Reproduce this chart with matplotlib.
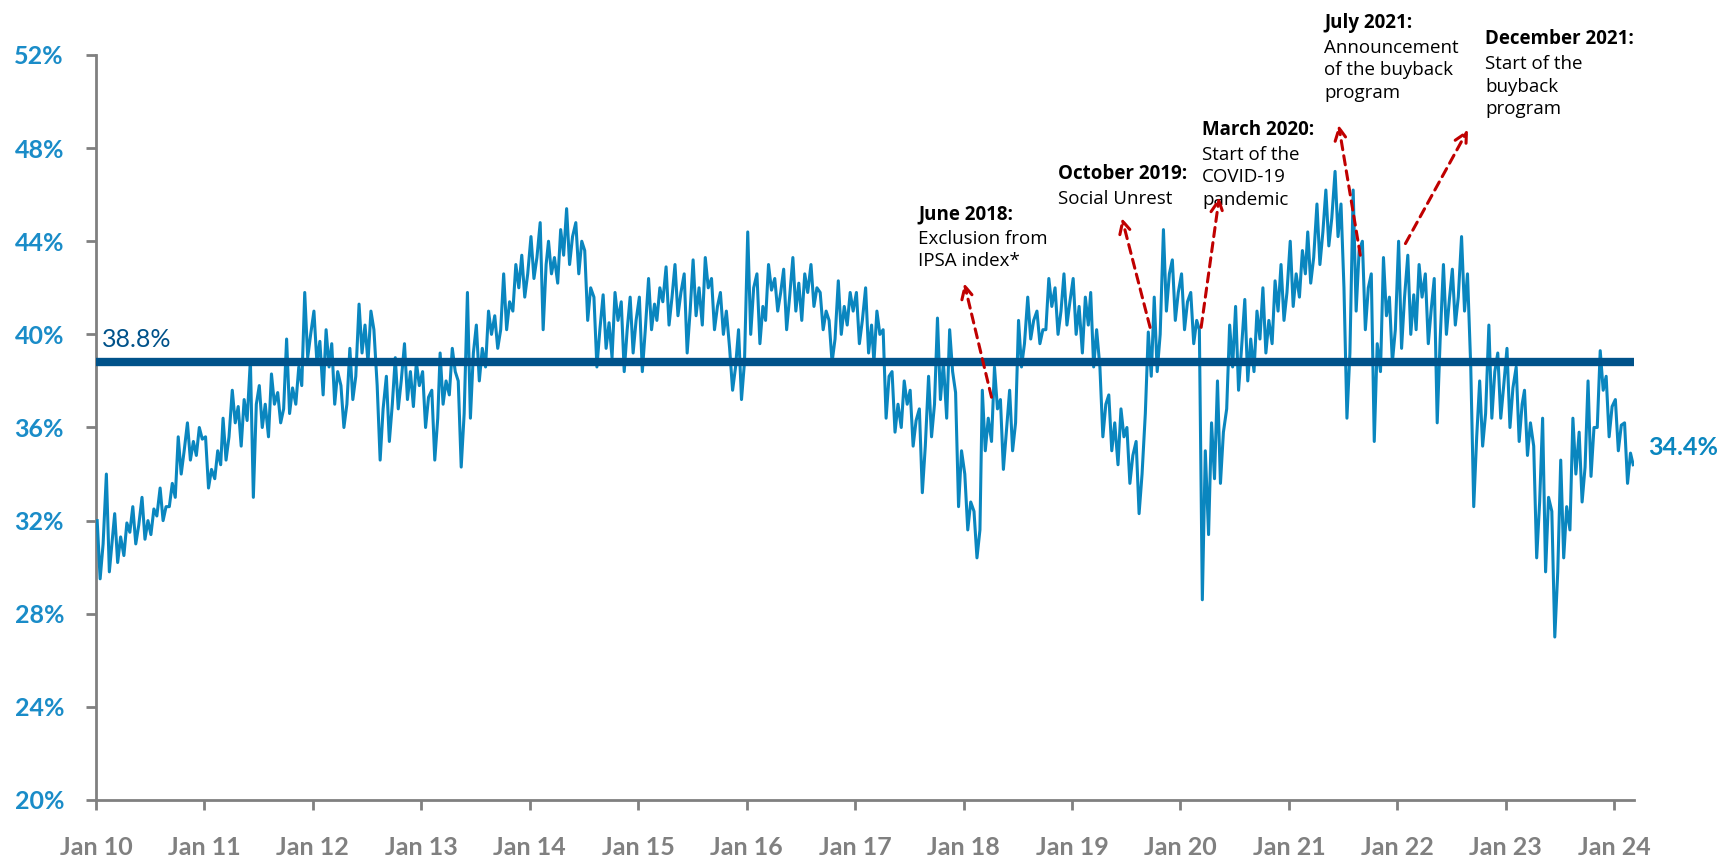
import numpy as np
import pandas as pd
import matplotlib
matplotlib.use("Agg")
import matplotlib.pyplot as plt
import matplotlib.dates as mdates

# free float (%): two extreme readings per month ...
y2010 = [32.0, 29.5, 34.0, 29.8, 32.3, 30.2, 30.5, 31.9, 32.6, 31.0, 33.0, 31.2,
         31.4, 32.5, 33.4, 32.0, 32.6, 33.6, 35.6, 34.0, 36.2, 34.6, 34.8, 36.0]
y2011 = [35.6, 33.4, 33.8, 35.0, 36.4, 34.6, 37.6, 36.2, 35.2, 37.2, 38.9, 33.0,
         37.8, 36.0, 35.6, 38.3, 37.5, 36.2, 39.8, 36.6, 37.0, 38.6, 41.8, 39.0]
y2012 = [41.0, 38.8, 37.4, 40.2, 39.6, 37.0, 37.8, 36.0, 39.4, 37.2, 41.3, 39.2,
         38.8, 41.0, 37.8, 34.6, 38.2, 35.4, 39.0, 36.8, 39.6, 37.2, 36.9, 38.8]
y2013 = [38.4, 36.0, 37.6, 34.6, 39.2, 37.0, 37.4, 39.4, 38.0, 34.3, 41.8, 36.4,
         40.4, 38.0, 38.6, 41.0, 40.8, 39.4, 42.6, 40.2, 41.0, 43.0, 43.4, 41.6]
y2014 = [44.2, 42.4, 44.8, 40.2, 44.0, 42.6, 42.2, 44.5, 45.4, 43.0, 44.8, 42.6,
         43.6, 40.6, 41.6, 38.6, 41.7, 39.4, 39.0, 41.8, 41.4, 38.4, 41.6, 39.2]
y2015 = [41.6, 38.4, 42.4, 40.2, 40.6, 42.0, 42.9, 40.4, 43.0, 40.8, 42.6, 39.2,
         43.2, 40.8, 40.4, 43.3, 42.4, 40.2, 41.8, 40.0, 39.4, 37.6, 40.2, 37.2]
y2016 = [44.4, 40.0, 42.6, 39.6, 40.6, 43.0, 42.4, 41.0, 42.8, 40.2, 43.3, 41.0,
         40.6, 42.6, 43.0, 41.2, 41.8, 40.2, 40.6, 38.8, 42.3, 40.0, 40.4, 41.8]
y2017 = [41.8, 39.6, 42.0, 39.2, 38.8, 41.0, 40.2, 36.4, 38.4, 35.8, 36.0, 38.0,
         37.6, 35.2, 36.8, 33.2, 38.2, 35.6, 40.7, 37.2, 36.4, 40.2, 37.5, 32.6]
y2018 = [34.0, 31.6, 32.4, 30.4, 37.6, 35.0, 35.4, 38.6, 37.2, 34.2, 37.6, 35.0,
         40.6, 38.6, 41.6, 39.8, 41.0, 39.6, 40.2, 42.4, 42.0, 40.0, 42.6, 40.4]
y2019 = [42.4, 40.0, 39.2, 41.6, 41.8, 38.6, 38.6, 35.6, 37.4, 35.0, 34.4, 36.8,
         36.0, 33.6, 35.4, 32.3, 36.6, 40.1, 41.6, 38.4, 44.5, 41.0, 43.2, 40.6]
y2020 = [42.6, 40.2, 41.8, 39.6, 40.2, 28.6, 31.4, 36.2, 38.0, 33.6, 36.8, 40.4,
         41.2, 37.6, 41.5, 38.0, 38.4, 41.0, 42.0, 39.2, 39.6, 42.3, 43.0, 40.6]
y2021 = [44.0, 41.2, 41.6, 43.6, 44.4, 42.2, 45.6, 43.0, 46.2, 43.8, 47.0, 44.2,
         42.0, 36.4, 46.2, 41.0, 44.0, 40.2, 42.6, 35.4, 38.4, 43.3, 41.6, 38.8]
y2022 = [44.0, 39.4, 43.4, 40.0, 40.2, 43.0, 42.6, 39.6, 42.4, 36.2, 43.0, 40.0,
         42.8, 40.4, 44.2, 41.0, 38.6, 32.6, 38.0, 35.2, 40.4, 36.4, 39.2, 36.4]
y2023 = [39.4, 36.0, 38.6, 35.4, 37.6, 34.8, 35.2, 30.4, 36.4, 29.8, 32.4, 27.0,
         34.6, 30.4, 31.6, 36.4, 35.8, 32.8, 38.0, 33.9, 36.0, 39.3, 38.2, 35.6]
y2024 = [37.2, 35.0, 36.2, 33.6, 34.4]

# ... and a typical (middle) reading per month
m2010 = [31.0, 31.2, 31.3, 31.5, 31.8, 32.0, 32.2, 32.6, 33.0, 35.0, 35.4, 35.5]
m2011 = [34.2, 34.4, 35.6, 36.9, 36.3, 37.0, 37.0, 37.0, 36.8, 37.7, 37.8, 40.0]
m2012 = [39.7, 38.6, 38.4, 37.0, 38.2, 40.4, 40.2, 36.8, 37.0, 38.0, 38.4, 37.8]
m2013 = [37.3, 36.4, 38.0, 38.4, 36.6, 39.2, 39.4, 40.0, 40.2, 41.4, 42.0, 42.6]
m2014 = [43.3, 43.0, 43.3, 43.4, 44.2, 44.0, 42.0, 40.2, 40.5, 40.6, 40.2, 40.6]
m2015 = [40.2, 41.3, 41.4, 41.6, 41.8, 41.0, 42.0, 42.0, 41.2, 41.0, 38.6, 38.8]
m2016 = [42.0, 41.2, 41.9, 41.8, 41.6, 42.2, 41.8, 42.0, 41.0, 39.8, 41.2, 41.0]
m2017 = [40.6, 40.4, 40.0, 38.2, 37.0, 37.0, 36.3, 35.2, 37.0, 38.8, 38.4, 35.0]
m2018 = [32.8, 31.6, 36.4, 36.8, 35.8, 36.2, 39.6, 40.6, 40.2, 41.2, 41.0, 41.4]
m2019 = [41.2, 40.4, 40.2, 37.0, 36.2, 35.6, 34.8, 34.0, 38.2, 40.0, 42.6, 41.8]
m2020 = [41.4, 40.6, 35.0, 33.8, 35.8, 38.6, 39.4, 39.8, 39.8, 40.6, 41.0, 41.8]
m2021 = [42.6, 42.6, 43.3, 44.4, 45.0, 45.6, 39.2, 43.6, 42.0, 39.6, 40.8, 40.2]
m2022 = [41.6, 41.7, 41.6, 41.1, 39.8, 41.5, 41.6, 42.6, 35.6, 36.6, 38.4, 37.8]
m2023 = [37.7, 37.0, 36.2, 32.8, 33.0, 29.8, 32.6, 34.0, 34.3, 36.0, 37.6, 36.9]
m2024 = [36.1, 34.9]

years = {2010: (y2010, m2010), 2011: (y2011, m2011), 2012: (y2012, m2012),
         2013: (y2013, m2013), 2014: (y2014, m2014), 2015: (y2015, m2015),
         2016: (y2016, m2016), 2017: (y2017, m2017), 2018: (y2018, m2018),
         2019: (y2019, m2019), 2020: (y2020, m2020), 2021: (y2021, m2021),
         2022: (y2022, m2022), 2023: (y2023, m2023), 2024: (y2024, m2024)}

dates = []
values = []
for yr, (ext, mid) in years.items():
    n_months = (len(ext) + 1) // 2
    for k in range(n_months):
        pts = ext[2 * k:2 * k + 2] + mid[k:k + 1]
        for day, v in zip([5, 15, 25], pts):
            dates.append(pd.Timestamp(yr, k + 1, day))
            values.append(v)
series = pd.Series(values, index=dates)

mean_val = 38.8
last_val = 34.4

# annotation: title, body, text anchor, arrow tail, arrow head
notes = [
    ("June 2018:", "Exclusion from\nIPSA index*", ("2017-08-01", 45.6), ("2018-04-05", 37.3), ("2018-01-03", 42.2)),
    ("October 2019:", "Social Unrest", ("2018-11-15", 47.3), ("2019-09-21", 40.3), ("2019-06-18", 45.0)),
    ("March 2020:", "Start of the\nCOVID-19\npandemic", ("2020-03-14", 49.2), ("2020-03-11", 40.3), ("2020-05-11", 45.9)),
    ("July 2021:", "Announcement\nof the buyback\nprogram", ("2021-04-30", 53.8), ("2021-08-29", 43.4), ("2021-06-17", 49.0)),
    ("December 2021:", "Start of the\nbuyback\nprogram", ("2022-10-24", 53.1), ("2022-01-28", 43.9), ("2022-08-27", 48.8)),
]

blue = "#0A86BF"
dark = "#00528A"
grey = "#808080"
red = "#C00000"

fig = plt.figure(figsize=(17.17, 8.58), dpi=100)
ax = fig.add_axes([0.0559, 0.0676, 0.8958, 0.8683])

ax.plot(series.index, series.values, color=blue, lw=2.2, zorder=3)
ax.axhline(mean_val, color=dark, lw=6, zorder=4)

ax.set_xlim(pd.Timestamp("2010-01-01"), pd.Timestamp("2024-03-08"))
ax.set_ylim(20, 52)

ax.set_yticks(np.arange(20, 53, 4))
ax.set_yticklabels([f"{v}%" for v in range(20, 53, 4)])
ax.xaxis.set_major_locator(mdates.YearLocator())
ax.xaxis.set_major_formatter(mdates.DateFormatter("Jan %y"))

for s in ["top", "right"]:
    ax.spines[s].set_visible(False)
for s in ["left", "bottom"]:
    ax.spines[s].set_color(grey)
    ax.spines[s].set_linewidth(2)

ax.tick_params(axis="y", length=7, width=2, color=grey, pad=16, labelcolor="#1A8CC8", labelsize=18)
ax.tick_params(axis="x", length=7, width=2, color=grey, pad=19, labelcolor=grey, labelsize=18)
for lab in ax.get_xticklabels() + ax.get_yticklabels():
    lab.set_fontfamily("Lato")
    lab.set_fontweight("bold")

ax.text(pd.Timestamp("2010-01-20"), mean_val + 0.5, f"{mean_val}%", color=dark,
        fontsize=18, family="Lato", va="bottom", ha="left")
ax.text(pd.Timestamp("2024-04-25"), 35.15, f"{last_val}%", color=blue,
        fontsize=18, family="Lato", fontweight="bold", va="center", ha="left")

for title, body, txt, tail, head in notes:
    tx = pd.Timestamp(txt[0])
    ax.text(tx, txt[1], title, fontsize=13.5, fontweight="bold", family="Open Sans",
            va="top", ha="left", color="black")
    ax.annotate(body, xy=(tx, txt[1]), xytext=(0, -18.5), textcoords="offset points",
                fontsize=13.5, family="Open Sans", va="top", ha="left",
                linespacing=1.33, annotation_clip=False)
    ax.annotate("", xy=(pd.Timestamp(head[0]), head[1]),
                xytext=(pd.Timestamp(tail[0]), tail[1]),
                arrowprops=dict(arrowstyle="->", color=red, lw=2.2,
                                linestyle=(0, (3, 2)), mutation_scale=22,
                                shrinkA=0, shrinkB=0),
                annotation_clip=False, zorder=5)

fig.savefig("out.png", dpi=100)
